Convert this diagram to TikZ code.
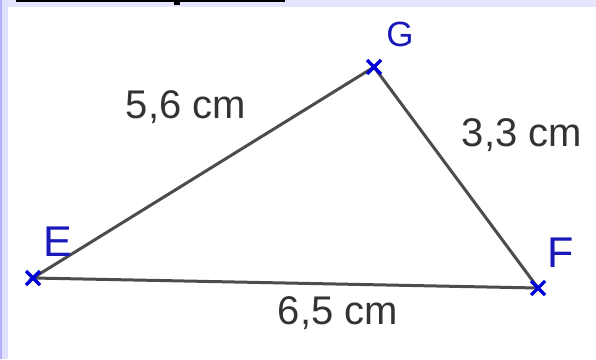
\documentclass[tikz,border=0pt]{standalone}
\usepackage{fontspec}
\setmainfont{Liberation Sans}
\begin{document}
\begin{tikzpicture}[x=1pt,y=-1pt,
  side/.style={draw=black!70, line width=3pt},
  ptmark/.style={draw=blue!85!black, line width=3.2pt},
  lbl/.style={text=black!80, font=\fontsize{40}{40}\selectfont, inner sep=0pt},
  ptname/.style={text=blue!70!black!90, inner sep=0pt}]
\useasboundingbox (0,0) rectangle (596,359);
\fill[white] (0,0) rectangle (596,359);
% top band and left border
\fill[blue!10!white] (0,0) rectangle (596,7);
\fill[blue!12!white] (0,0) rectangle (8,359);
\fill[blue!30!white] (0,0) rectangle (2,359);
\fill[black] (16,0) rectangle (285,2);
\fill[black] (174,0) rectangle (180,5);
% points
\coordinate (E) at (33,278);
\coordinate (G) at (374,67);
\coordinate (F) at (538,288);
\draw[side] (E) -- (G) -- (F) -- cycle;
\foreach \p in {E,G,F}{
  \draw[ptmark] ([shift={(-7,-7)}]\p) -- ([shift={(7,7)}]\p);
  \draw[ptmark] ([shift={(-7,7)}]\p) -- ([shift={(7,-7)}]\p);
}
\node[ptname, font=\fontsize{35}{35}\selectfont] (nG) at (400,34) {G};
\node[ptname, font=\fontsize{43}{43}\selectfont] (nE) at (58,242) {E};
\node[ptname, font=\fontsize{43}{43}\selectfont] (nF) at (561,253) {F};
\node[lbl] (a) at (186,107) {5,6 cm};
\node[lbl] (b) at (522,135) {3,3 cm};
\node[lbl] (c) at (338,313) {6,5 cm};
\end{tikzpicture}
\end{document}
